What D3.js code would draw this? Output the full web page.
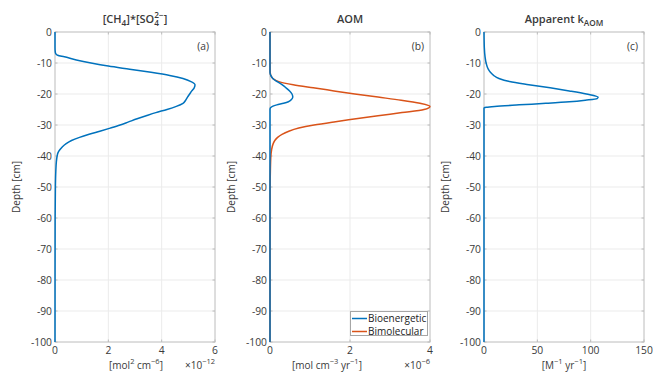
<!DOCTYPE html>
<html><head><meta charset="utf-8">
<script src="https://cdn.jsdelivr.net/npm/d3@7"></script>
<style>body{margin:0;background:#fff} text{font-family:"Open Sans",Lato,sans-serif}</style>
</head><body><svg id="c" width="656" height="374"></svg>
<script>
// ---------- data ----------
const depthTicks = [0,-10,-20,-30,-40,-50,-60,-70,-80,-90,-100];

// (a) [CH4]*[SO4 2-]  (x 1e-12 mol^2 cm^-6)
const depthA   = [0,-5,-6.5,-7,-7.5,-8,-9,-10,-11,-12,-13,-14,-15,-16,-17,-18,-19,-20,-21,-22,-23,-24,-25,-26,-27,-28,-29,-30,-31,-32,-33,-34,-35,-36,-37,-38,-39,-40,-42,-45,-50,-60,-100];
const productA = [0,0,0.01,0.03,0.1,0.35,0.8,1.35,2.0,2.8,3.6,4.3,4.8,5.1,5.25,5.22,5.13,5.05,4.97,4.9,4.8,4.55,4.2,3.78,3.42,3.08,2.76,2.44,2.07,1.68,1.28,0.92,0.62,0.42,0.28,0.18,0.11,0.08,0.05,0.03,0.015,0.005,0];

// (b) AOM rate (x 1e-6 mol cm^-3 yr^-1)
const depthBio = [0,-13,-13.5,-14,-15,-16,-17,-18,-19,-20,-21,-22,-22.5,-23,-23.5,-24,-24.5,-25,-100];
const bioenergetic = [0,0,0.005,0.02,0.07,0.18,0.3,0.4,0.49,0.55,0.57,0.52,0.46,0.34,0.17,0.06,0.01,0,0];
const depthBim = [0,-12,-13,-14,-15,-16,-17,-18,-19,-20,-21,-22,-23,-24,-25,-26,-27,-28,-29,-30,-31,-32,-33,-34,-35,-36,-38,-40,-45,-50,-100];
const bimolecular = [0,0.002,0.006,0.02,0.07,0.22,0.58,1.08,1.6,2.12,2.7,3.28,3.75,4.0,3.85,3.3,2.7,2.15,1.6,1.1,0.72,0.47,0.3,0.19,0.12,0.08,0.04,0.022,0.009,0.003,0];

// (c) apparent k_AOM (M^-1 yr^-1)
const depthK = [0,-5,-8,-10,-12,-13,-14,-15,-16,-17,-18,-19,-20,-21,-21.5,-22,-22.5,-23,-23.5,-24,-24.3,-24.5,-100];
const kAOM   = [0,0.3,1,2,4,6,9,14,24,42,62,80,96,107,106,95,80,58,33,10,2,0,0];

const xTicksA = [0,2,4,6], xTicksB = [0,2,4], xTicksC = [0,50,100,150];
const seriesNames = ["Bioenergetic","Bimolecular"];
const colors = ["#0072BD","#D95319"];

// ---------- layout ----------
const svg = d3.select("#c");
const yTop = 32, yBot = 342, W = 160;
const y = d3.scaleLinear().domain([-100,0]).range([yBot, yTop]);
const axisCol = "#bcbcbc", gridCol = "#ebebeb", txtCol = "#3a3a3a";
const fsTick = 10.3;

function rich(g, x, yb, segs, size, anchor, weight){
  const t = g.append("text").attr("x",0).attr("y",yb).attr("font-size",size)
    .attr("fill",txtCol).attr("font-weight",weight||"normal");
  let cur = 0, prevW = 0;
  segs.forEach(s=>{
    const shift = s.m==="sub" ? size*0.33 : s.m==="sup" ? -size*0.42 : 0;
    const fs = s.m ? size*0.75 : size;
    const ts = t.append("tspan").attr("dy", shift-cur).attr("font-size",fs).text(s.t);
    if(s.back) ts.attr("dx", -prevW);
    cur = shift;
    prevW = ts.node().getComputedTextLength();
  });
  const w = t.node().getBBox().width;
  const dx = anchor==="middle" ? x - w/2 : anchor==="end" ? x - w : x;
  t.attr("x", dx);
  return t;
}

function panel(left, domain, ticks, letter){
  const x = d3.scaleLinear().domain(domain).range([left, left+W]);
  const g = svg.append("g");
  g.selectAll(".gx").data(ticks.slice(1,-1)).join("line")
    .attr("x1",d=>x(d)).attr("x2",d=>x(d)).attr("y1",yTop).attr("y2",yBot).attr("stroke",gridCol);
  g.selectAll(".gy").data(depthTicks.slice(1,-1)).join("line")
    .attr("x1",left).attr("x2",left+W).attr("y1",d=>y(d)).attr("y2",d=>y(d)).attr("stroke",gridCol);
  g.append("rect").attr("x",left).attr("y",yTop).attr("width",W).attr("height",yBot-yTop)
    .attr("fill","none").attr("stroke",axisCol);
  g.selectAll(".ty").data(depthTicks).join("path")
    .attr("d",d=>`M${left},${y(d)}h2.5M${left+W},${y(d)}h-2.5`).attr("stroke",axisCol);
  g.selectAll(".tx").data(ticks).join("path")
    .attr("d",d=>`M${x(d)},${yBot}v-2.5M${x(d)},${yTop}v2.5`).attr("stroke",axisCol);
  g.selectAll(".ly").data(depthTicks).join("text")
    .attr("x",left-3).attr("y",d=>y(d)).attr("dy","0.35em").attr("text-anchor","end")
    .attr("font-size",fsTick).attr("fill",txtCol).text(d=>d===0?"0":"-"+Math.abs(d));
  g.selectAll(".lx").data(ticks).join("text")
    .attr("x",d=>x(d)).attr("y",yBot+11.5).attr("text-anchor","middle")
    .attr("font-size",fsTick).attr("fill",txtCol).text(d=>d);
  g.append("text").attr("transform",`translate(${left-35.5},${(yTop+yBot)/2}) rotate(-90)`)
    .attr("text-anchor","middle").attr("font-size",10).attr("fill",txtCol).text("Depth [cm]");
  g.append("text").attr("x",left+W-6).attr("y",50).attr("text-anchor","end")
    .attr("font-size",10.3).attr("fill",txtCol).text(letter);
  return {g,x};
}

function curve(p, depths, vals, color){
  const pts = depths.map((d,i)=>[vals[i], d]);
  p.g.append("path").datum(pts)
    .attr("d", d3.line().x(d=>p.x(d[0])).y(d=>y(d[1])).curve(d3.curveMonotoneY))
    .attr("fill","none").attr("stroke",color).attr("stroke-width",1.5);
}

const pa = panel(55, [0,6], xTicksA, "(a)");
curve(pa, depthA, productA, colors[0]);
rich(svg, 135, 22.5, [{t:"[CH"},{t:"4",m:"sub"},{t:"]*[SO"},{t:"4",m:"sub"},{t:"2−",m:"sup",back:true},{t:"]"}], 11, "middle", 600);
rich(svg, 136, 368.5, [{t:"[mol"},{t:"2",m:"sup"},{t:" cm"},{t:"−6",m:"sup"},{t:"]"}], 10, "middle");
rich(svg, 215, 368.5, [{t:"×10"},{t:"−12",m:"sup"}], 10, "end");

const pb = panel(270, [0,4], xTicksB, "(b)");
curve(pb, depthBim, bimolecular, colors[1]);
curve(pb, depthBio, bioenergetic, colors[0]);
rich(svg, 350, 22.5, [{t:"AOM"}], 11, "middle", 600);
rich(svg, 327, 368.5, [{t:"[mol cm"},{t:"−3",m:"sup"},{t:" yr"},{t:"−1",m:"sup"},{t:"]"}], 10, "middle");
rich(svg, 430, 368.5, [{t:"×10"},{t:"−6",m:"sup"}], 10, "end");

const lg = svg.append("g");
lg.append("rect").attr("x",350.5).attr("y",311.5).attr("width",77).attr("height",24)
  .attr("fill","#fff").attr("stroke","#a6a6a6");
seriesNames.forEach((n,i)=>{
  const yy = 318.5 + i*13;
  lg.append("line").attr("x1",352).attr("x2",367).attr("y1",yy).attr("y2",yy)
    .attr("stroke",colors[i]).attr("stroke-width",1.5);
  lg.append("text").attr("x",368).attr("y",yy).attr("dy","0.35em")
    .attr("font-size",10).attr("fill","#222").text(n);
});

const pc = panel(484, [0,150], xTicksC, "(c)");
curve(pc, depthK, kAOM, colors[0]);
rich(svg, 564, 22.5, [{t:"Apparent k"},{t:"AOM",m:"sub"}], 11, "middle", 600);
rich(svg, 564, 368.5, [{t:"[M"},{t:"−1",m:"sup"},{t:" yr"},{t:"−1",m:"sup"},{t:"]"}], 10, "middle");
</script></body></html>
